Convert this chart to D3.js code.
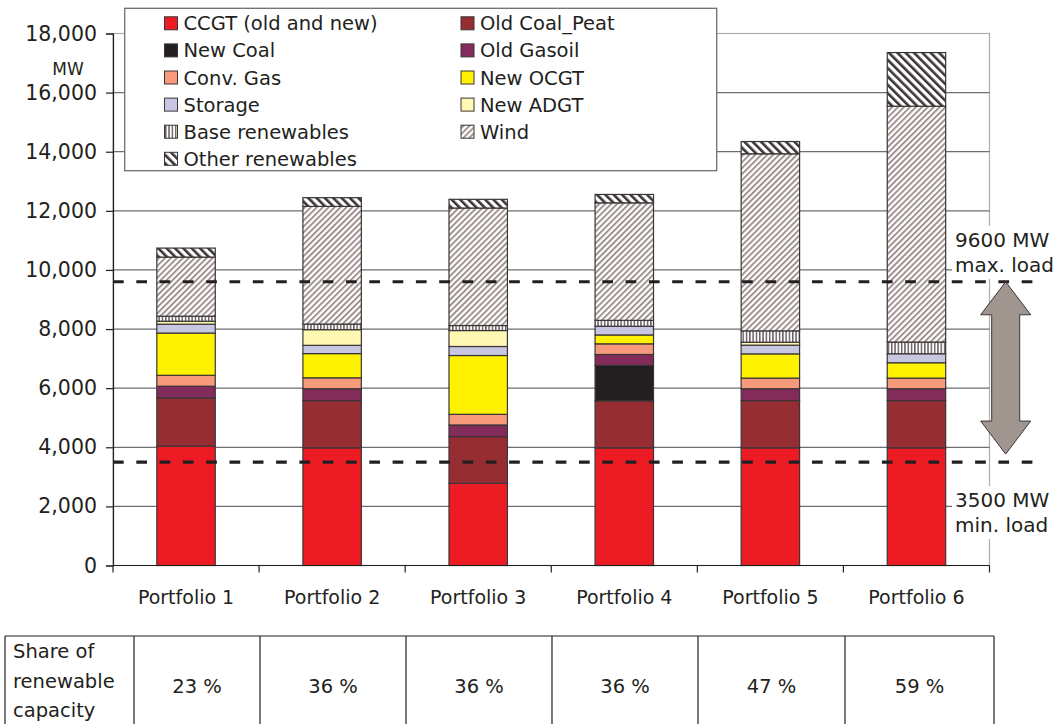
<!DOCTYPE html>
<html>
<head>
<meta charset="utf-8">
<script src="https://cdn.jsdelivr.net/npm/d3@7"></script>
<style>
  html, body { margin: 0; padding: 0; background: #ffffff; }
  svg { display: block; font-family: "DejaVu Sans", Verdana, sans-serif; }
</style>
</head>
<body>
<svg id="chart" width="1060" height="724"></svg>
<script>
// Installed capacity per portfolio (MW), stacked bottom to top
const categories = ["Portfolio 1", "Portfolio 2", "Portfolio 3", "Portfolio 4", "Portfolio 5", "Portfolio 6"];
const seriesNames = ["CCGT (old and new)", "Old Coal_Peat", "New Coal", "Old Gasoil", "Conv. Gas",
                     "New OCGT", "Storage", "New ADGT", "Base renewables", "Wind", "Other renewables"];
const ccgt        = [4040, 3980, 2780, 3980, 3980, 3980];
const oldCoalPeat = [1630, 1600, 1580, 1590, 1600, 1600];
const newCoal     = [0, 0, 0, 1200, 0, 0];
const oldGasoil   = [395, 400, 395, 370, 400, 400];
const convGas     = [370, 370, 360, 360, 360, 360];
const newOCGT     = [1430, 820, 1990, 300, 820, 520];
const storage     = [300, 280, 305, 295, 295, 305];
const newADGT     = [100, 530, 540, 0, 100, 0];
const baseRenew   = [170, 190, 170, 200, 385, 395];
const wind        = [2000, 3980, 3975, 3975, 5990, 7980];
const otherRenew  = [305, 295, 295, 285, 415, 1815];
const yTicks = [0, 2000, 4000, 6000, 8000, 10000, 12000, 14000, 16000, 18000];
const renewableShare = [23, 36, 36, 36, 47, 59];
const maxLoad = 9600;
const minLoad = 3500;

const seriesValues = [ccgt, oldCoalPeat, newCoal, oldGasoil, convGas, newOCGT,
                      storage, newADGT, baseRenew, wind, otherRenew];
const rows = categories.map((c, i) => {
  const r = { category: c };
  seriesNames.forEach((s, k) => { r[s] = seriesValues[k][i]; });
  return r;
});

const fills = {
  "CCGT (old and new)": "#ed1c24",
  "Old Coal_Peat": "#952d33",
  "New Coal": "#231f20",
  "Old Gasoil": "#832b5a",
  "Conv. Gas": "#f79a7b",
  "New OCGT": "#fff200",
  "Storage": "#c8c7e2",
  "New ADGT": "#fff8b2",
  "Base renewables": "url(#patBase)",
  "Wind": "url(#patWind)",
  "Other renewables": "url(#patOther)"
};

const svg = d3.select("#chart");
const ink = "#231f20";

// hatch patterns
const defs = svg.append("defs");
const pWind = defs.append("pattern").attr("id", "patWind").attr("patternUnits", "userSpaceOnUse")
  .attr("width", 4.2).attr("height", 8).attr("patternTransform", "rotate(45)");
pWind.append("rect").attr("width", 4.2).attr("height", 8).attr("fill", "#fff");
pWind.append("rect").attr("width", 1.9).attr("height", 8).attr("fill", "#9d908c");

const pOther = defs.append("pattern").attr("id", "patOther").attr("patternUnits", "userSpaceOnUse")
  .attr("width", 5.9).attr("height", 8).attr("patternTransform", "rotate(-45)");
pOther.append("rect").attr("width", 5.9).attr("height", 8).attr("fill", "#fff");
pOther.append("rect").attr("width", 2.6).attr("height", 8).attr("fill", "#3b3435");

const pBase = defs.append("pattern").attr("id", "patBase").attr("patternUnits", "userSpaceOnUse")
  .attr("width", 3.3).attr("height", 8);
pBase.append("rect").attr("width", 3.3).attr("height", 8).attr("fill", "#fff");
pBase.append("rect").attr("width", 1.5).attr("height", 8).attr("fill", "#6b6164");

const plot = { left: 113, right: 989.5, top: 33.5, bottom: 565.5 };

const x = d3.scaleBand().domain(categories).range([plot.left, plot.right]).paddingInner(0.6).paddingOuter(0.3);
const y = d3.scaleLinear().domain([0, 18000]).range([plot.bottom, plot.top]);

// plot-area frame
svg.append("rect").attr("x", plot.left).attr("y", plot.top)
  .attr("width", plot.right - plot.left).attr("height", plot.bottom - plot.top)
  .attr("fill", "none").attr("stroke", "#b5aba8").attr("stroke-width", 1.2);

// horizontal gridlines
svg.append("g").selectAll("line").data(yTicks.filter(t => t > 0 && t < 18000)).join("line")
  .attr("x1", plot.left).attr("x2", plot.right)
  .attr("y1", d => y(d)).attr("y2", d => y(d))
  .attr("stroke", "#6d6e71").attr("stroke-width", 1.2);

// stacked bars
const stack = d3.stack().keys(seriesNames)(rows);
svg.append("g").selectAll("g").data(stack).join("g")
  .attr("fill", d => fills[d.key])
  .selectAll("rect").data(d => d.filter(s => s[1] - s[0] > 0)).join("rect")
  .attr("x", d => x(d.data.category))
  .attr("width", x.bandwidth())
  .attr("y", d => y(d[1]))
  .attr("height", d => y(d[0]) - y(d[1]))
  .attr("stroke", "#3a3536").attr("stroke-width", 1.2);

// load lines
[maxLoad, minLoad].forEach(v => {
  svg.append("line").attr("x1", plot.left).attr("x2", 1038)
    .attr("y1", y(v)).attr("y2", y(v))
    .attr("stroke", ink).attr("stroke-width", 3.2).attr("stroke-dasharray", "10.7,12.6");
});

// double-headed arrow between the load levels
const ax = 1005.7, headW = 25, shaftW = 14, headH = 33;
const yt = y(maxLoad), yb = y(minLoad) - 8;
const arrowPts = [
  [ax, yt], [ax + headW, yt + headH], [ax + shaftW, yt + headH], [ax + shaftW, yb - headH],
  [ax + headW, yb - headH], [ax, yb], [ax - headW, yb - headH], [ax - shaftW, yb - headH],
  [ax - shaftW, yt + headH], [ax - headW, yt + headH]
];
svg.append("polygon").attr("points", arrowPts.map(p => p.join(",")).join(" "))
  .attr("fill", "#a0958f").attr("stroke", "#3a3536").attr("stroke-width", 1);

// load annotations
const annot = [
  { lines: [`${maxLoad} MW`, "max. load"], y0: 247 },
  { lines: [`${minLoad} MW`, "min. load"], y0: 507 }
];
annot.forEach(a => {
  svg.append("rect").attr("x", 952).attr("y", a.y0 - 21).attr("width", 108).attr("height", 53).attr("fill", "#fff");
  a.lines.forEach((t, i) => {
    svg.append("text").attr("x", 955).attr("y", a.y0 + i * 25).attr("font-size", 20).attr("fill", ink).text(t);
  });
});

// axes
const yAxis = d3.axisLeft(y).tickValues(yTicks).tickSize(7).tickPadding(9).tickFormat(d3.format(","));
const gy = svg.append("g").attr("transform", `translate(${plot.left},0)`).call(yAxis);
gy.select(".domain").attr("stroke", ink).attr("stroke-width", 1.2);
gy.selectAll(".tick line").attr("stroke", ink).attr("stroke-width", 1.2);
gy.selectAll(".tick text").attr("font-size", 20.5).attr("fill", ink).attr("font-family", "DejaVu Sans");

svg.append("text").attr("x", 68).attr("y", 75).attr("text-anchor", "middle")
  .attr("font-size", 17).attr("fill", ink).text("MW");

const xAxis = d3.axisBottom(x).tickSize(0).tickPadding(25);
const gx = svg.append("g").attr("transform", `translate(0,${plot.bottom})`).call(xAxis);
gx.select(".domain").remove();
gx.selectAll(".tick text").attr("font-size", 19).attr("fill", ink).attr("font-family", "DejaVu Sans");
svg.append("line").attr("x1", plot.left).attr("x2", plot.right).attr("y1", plot.bottom).attr("y2", plot.bottom)
  .attr("stroke", ink).attr("stroke-width", 1.2);
const bounds = categories.map(c => x(c) - x.step() * x.paddingInner() / 2).concat([plot.right]);
bounds[0] = plot.left;
svg.append("g").selectAll("line").data(bounds).join("line")
  .attr("x1", d => d).attr("x2", d => d).attr("y1", plot.bottom).attr("y2", plot.bottom + 7)
  .attr("stroke", ink).attr("stroke-width", 1.2);

// legend
const lg = svg.append("g");
lg.append("rect").attr("x", 124.7).attr("y", 8.3).attr("width", 592).attr("height", 162.4)
  .attr("fill", "#fff").attr("stroke", "#6d6e71").attr("stroke-width", 1.3);
seriesNames.forEach((s, i) => {
  const col = i % 2, row = Math.floor(i / 2);
  const cy = 23.3 + row * 27.1;
  const sx = col === 0 ? 164.5 : 461;
  lg.append("rect").attr("x", sx).attr("y", cy - 6.5).attr("width", 13).attr("height", 13)
    .attr("fill", fills[s]).attr("stroke", "#3a3536").attr("stroke-width", 1);
  lg.append("text").attr("x", sx + 19).attr("y", cy + 7).attr("font-size", 19.5).attr("fill", ink).text(s);
});

// share-of-renewables table
const colEdges = [5, 134, 260, 406, 552, 698, 845, 994];
const tTop = 636;
const tg = svg.append("g");
tg.append("line").attr("x1", colEdges[0]).attr("x2", colEdges[colEdges.length - 1])
  .attr("y1", tTop).attr("y2", tTop).attr("stroke", ink).attr("stroke-width", 1.2);
tg.selectAll("line.v").data(colEdges).join("line").attr("class", "v")
  .attr("x1", d => d).attr("x2", d => d).attr("y1", tTop).attr("y2", 730)
  .attr("stroke", ink).attr("stroke-width", 1.2);
["Share of", "renewable", "capacity"].forEach((t, i) => {
  tg.append("text").attr("x", 13).attr("y", 658 + i * 29.5).attr("font-size", 19.5).attr("fill", ink).text(t);
});
renewableShare.forEach((v, i) => {
  tg.append("text").attr("x", (colEdges[i + 1] + colEdges[i + 2]) / 2).attr("y", 693)
    .attr("text-anchor", "middle").attr("font-size", 19.5).attr("fill", ink).text(`${v} %`);
});
</script>
</body>
</html>
